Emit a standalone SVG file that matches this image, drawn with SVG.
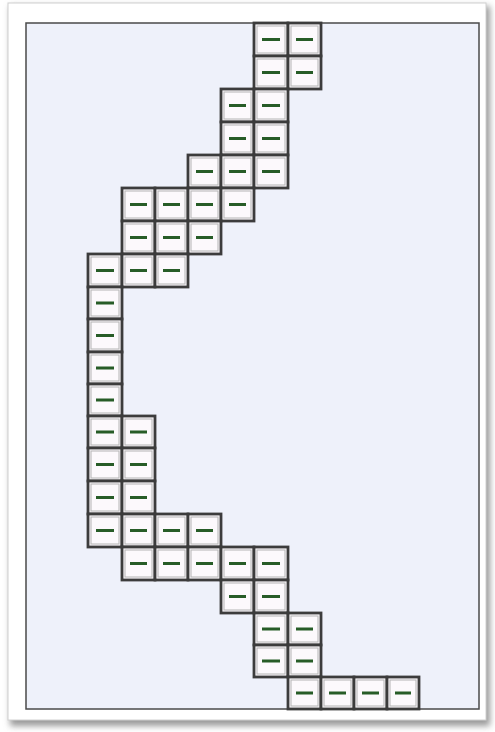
<svg xmlns="http://www.w3.org/2000/svg" width="495" height="732" viewBox="0 0 495 732">
<defs>
<filter id="sh" x="-5%" y="-5%" width="110%" height="110%"><feGaussianBlur stdDeviation="3"/></filter>
<style>
.o{fill:#faf7fa;stroke:#3c3c3c;stroke-width:2.8}
.i{fill:#fcf9fc;stroke:#b4b4b4;stroke-width:1}
.d{fill:none;stroke:#275c27;stroke-width:3}
</style>
</defs>
<rect x="10" y="6" width="480" height="720" fill="#9a9a9a" filter="url(#sh)"/>
<rect x="8" y="3" width="478" height="717" fill="#ffffff" stroke="#d0d0d0" stroke-width="1"/>
<rect id="panel" x="26" y="23" width="453" height="686" fill="#eef1fa" stroke="#4a4a4a" stroke-width="1.5"/>
<g id="cells">
<g id="r0c5"><rect class="o" x="254" y="23" width="34" height="33"/><rect class="i" x="257" y="26" width="28" height="27"/><path class="d" d="M262 39.5H280"/></g>
<g id="r0c6"><rect class="o" x="288" y="23" width="33" height="33"/><rect class="i" x="291" y="26" width="27" height="27"/><path class="d" d="M296 39.5H313"/></g>
<g id="r1c5"><rect class="o" x="254" y="56" width="34" height="33"/><rect class="i" x="257" y="59" width="28" height="27"/><path class="d" d="M262 72.5H280"/></g>
<g id="r1c6"><rect class="o" x="288" y="56" width="33" height="33"/><rect class="i" x="291" y="59" width="27" height="27"/><path class="d" d="M296 72.5H313"/></g>
<g id="r2c4"><rect class="o" x="221" y="89" width="33" height="33"/><rect class="i" x="224" y="92" width="27" height="27"/><path class="d" d="M229 105.5H246"/></g>
<g id="r2c5"><rect class="o" x="254" y="89" width="34" height="33"/><rect class="i" x="257" y="92" width="28" height="27"/><path class="d" d="M262 105.5H280"/></g>
<g id="r3c4"><rect class="o" x="221" y="122" width="33" height="33"/><rect class="i" x="224" y="125" width="27" height="27"/><path class="d" d="M229 138.5H246"/></g>
<g id="r3c5"><rect class="o" x="254" y="122" width="34" height="33"/><rect class="i" x="257" y="125" width="28" height="27"/><path class="d" d="M262 138.5H280"/></g>
<g id="r4c3"><rect class="o" x="188" y="155" width="33" height="33"/><rect class="i" x="191" y="158" width="27" height="27"/><path class="d" d="M196 171.5H213"/></g>
<g id="r4c4"><rect class="o" x="221" y="155" width="33" height="33"/><rect class="i" x="224" y="158" width="27" height="27"/><path class="d" d="M229 171.5H246"/></g>
<g id="r4c5"><rect class="o" x="254" y="155" width="34" height="33"/><rect class="i" x="257" y="158" width="28" height="27"/><path class="d" d="M262 171.5H280"/></g>
<g id="r5c1"><rect class="o" x="122" y="188" width="33" height="33"/><rect class="i" x="125" y="191" width="27" height="27"/><path class="d" d="M130 204.5H147"/></g>
<g id="r5c2"><rect class="o" x="155" y="188" width="33" height="33"/><rect class="i" x="158" y="191" width="27" height="27"/><path class="d" d="M163 204.5H180"/></g>
<g id="r5c3"><rect class="o" x="188" y="188" width="33" height="33"/><rect class="i" x="191" y="191" width="27" height="27"/><path class="d" d="M196 204.5H213"/></g>
<g id="r5c4"><rect class="o" x="221" y="188" width="33" height="33"/><rect class="i" x="224" y="191" width="27" height="27"/><path class="d" d="M229 204.5H246"/></g>
<g id="r6c1"><rect class="o" x="122" y="221" width="33" height="33"/><rect class="i" x="125" y="224" width="27" height="27"/><path class="d" d="M130 237.5H147"/></g>
<g id="r6c2"><rect class="o" x="155" y="221" width="33" height="33"/><rect class="i" x="158" y="224" width="27" height="27"/><path class="d" d="M163 237.5H180"/></g>
<g id="r6c3"><rect class="o" x="188" y="221" width="33" height="33"/><rect class="i" x="191" y="224" width="27" height="27"/><path class="d" d="M196 237.5H213"/></g>
<g id="r7c0"><rect class="o" x="88" y="254" width="34" height="33"/><rect class="i" x="91" y="257" width="28" height="27"/><path class="d" d="M96 270.5H114"/></g>
<g id="r7c1"><rect class="o" x="122" y="254" width="33" height="33"/><rect class="i" x="125" y="257" width="27" height="27"/><path class="d" d="M130 270.5H147"/></g>
<g id="r7c2"><rect class="o" x="155" y="254" width="33" height="33"/><rect class="i" x="158" y="257" width="27" height="27"/><path class="d" d="M163 270.5H180"/></g>
<g id="r8c0"><rect class="o" x="88" y="287" width="34" height="32"/><rect class="i" x="91" y="290" width="28" height="26"/><path class="d" d="M96 303H114"/></g>
<g id="r9c0"><rect class="o" x="88" y="319" width="34" height="33"/><rect class="i" x="91" y="322" width="28" height="27"/><path class="d" d="M96 335.5H114"/></g>
<g id="r10c0"><rect class="o" x="88" y="352" width="34" height="32"/><rect class="i" x="91" y="355" width="28" height="26"/><path class="d" d="M96 368H114"/></g>
<g id="r11c0"><rect class="o" x="88" y="384" width="34" height="32"/><rect class="i" x="91" y="387" width="28" height="26"/><path class="d" d="M96 400H114"/></g>
<g id="r12c0"><rect class="o" x="88" y="416" width="34" height="32"/><rect class="i" x="91" y="419" width="28" height="26"/><path class="d" d="M96 432H114"/></g>
<g id="r12c1"><rect class="o" x="122" y="416" width="33" height="32"/><rect class="i" x="125" y="419" width="27" height="26"/><path class="d" d="M130 432H147"/></g>
<g id="r13c0"><rect class="o" x="88" y="448" width="34" height="33"/><rect class="i" x="91" y="451" width="28" height="27"/><path class="d" d="M96 464.5H114"/></g>
<g id="r13c1"><rect class="o" x="122" y="448" width="33" height="33"/><rect class="i" x="125" y="451" width="27" height="27"/><path class="d" d="M130 464.5H147"/></g>
<g id="r14c0"><rect class="o" x="88" y="481" width="34" height="33"/><rect class="i" x="91" y="484" width="28" height="27"/><path class="d" d="M96 497.5H114"/></g>
<g id="r14c1"><rect class="o" x="122" y="481" width="33" height="33"/><rect class="i" x="125" y="484" width="27" height="27"/><path class="d" d="M130 497.5H147"/></g>
<g id="r15c0"><rect class="o" x="88" y="514" width="34" height="33"/><rect class="i" x="91" y="517" width="28" height="27"/><path class="d" d="M96 530.5H114"/></g>
<g id="r15c1"><rect class="o" x="122" y="514" width="33" height="33"/><rect class="i" x="125" y="517" width="27" height="27"/><path class="d" d="M130 530.5H147"/></g>
<g id="r15c2"><rect class="o" x="155" y="514" width="33" height="33"/><rect class="i" x="158" y="517" width="27" height="27"/><path class="d" d="M163 530.5H180"/></g>
<g id="r15c3"><rect class="o" x="188" y="514" width="33" height="33"/><rect class="i" x="191" y="517" width="27" height="27"/><path class="d" d="M196 530.5H213"/></g>
<g id="r16c1"><rect class="o" x="122" y="547" width="33" height="33"/><rect class="i" x="125" y="550" width="27" height="27"/><path class="d" d="M130 563.5H147"/></g>
<g id="r16c2"><rect class="o" x="155" y="547" width="33" height="33"/><rect class="i" x="158" y="550" width="27" height="27"/><path class="d" d="M163 563.5H180"/></g>
<g id="r16c3"><rect class="o" x="188" y="547" width="33" height="33"/><rect class="i" x="191" y="550" width="27" height="27"/><path class="d" d="M196 563.5H213"/></g>
<g id="r16c4"><rect class="o" x="221" y="547" width="33" height="33"/><rect class="i" x="224" y="550" width="27" height="27"/><path class="d" d="M229 563.5H246"/></g>
<g id="r16c5"><rect class="o" x="254" y="547" width="34" height="33"/><rect class="i" x="257" y="550" width="28" height="27"/><path class="d" d="M262 563.5H280"/></g>
<g id="r17c4"><rect class="o" x="221" y="580" width="33" height="33"/><rect class="i" x="224" y="583" width="27" height="27"/><path class="d" d="M229 596.5H246"/></g>
<g id="r17c5"><rect class="o" x="254" y="580" width="34" height="33"/><rect class="i" x="257" y="583" width="28" height="27"/><path class="d" d="M262 596.5H280"/></g>
<g id="r18c5"><rect class="o" x="254" y="613" width="34" height="32"/><rect class="i" x="257" y="616" width="28" height="26"/><path class="d" d="M262 629H280"/></g>
<g id="r18c6"><rect class="o" x="288" y="613" width="33" height="32"/><rect class="i" x="291" y="616" width="27" height="26"/><path class="d" d="M296 629H313"/></g>
<g id="r19c5"><rect class="o" x="254" y="645" width="34" height="32"/><rect class="i" x="257" y="648" width="28" height="26"/><path class="d" d="M262 661H280"/></g>
<g id="r19c6"><rect class="o" x="288" y="645" width="33" height="32"/><rect class="i" x="291" y="648" width="27" height="26"/><path class="d" d="M296 661H313"/></g>
<g id="r20c6"><rect class="o" x="288" y="677" width="33" height="32"/><rect class="i" x="291" y="680" width="27" height="26"/><path class="d" d="M296 693H313"/></g>
<g id="r20c7"><rect class="o" x="321" y="677" width="33" height="32"/><rect class="i" x="324" y="680" width="27" height="26"/><path class="d" d="M329 693H346"/></g>
<g id="r20c8"><rect class="o" x="354" y="677" width="33" height="32"/><rect class="i" x="357" y="680" width="27" height="26"/><path class="d" d="M362 693H379"/></g>
<g id="r20c9"><rect class="o" x="387" y="677" width="32" height="32"/><rect class="i" x="390" y="680" width="26" height="26"/><path class="d" d="M395 693H411"/></g>
</g>
<g id="connectors"/>
</svg>
